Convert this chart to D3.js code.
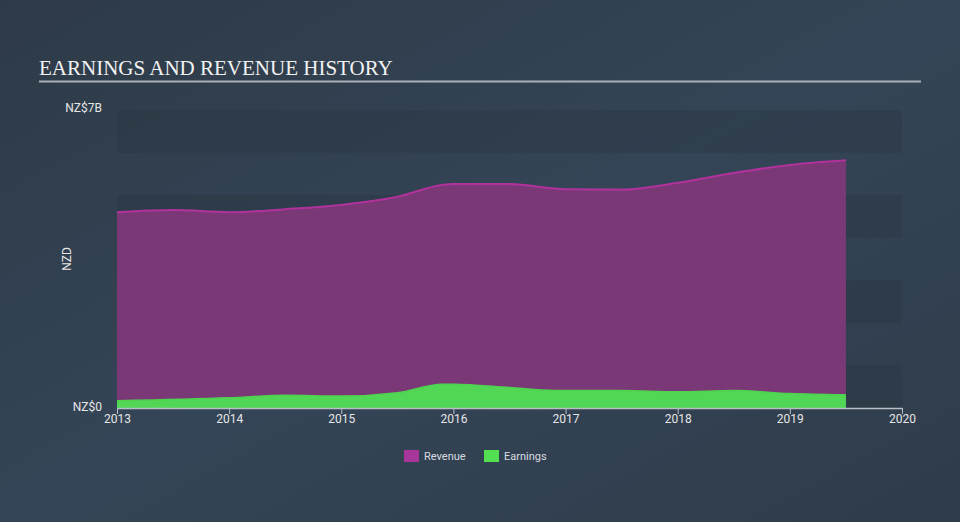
<!DOCTYPE html>
<html><head><meta charset="utf-8">
<script src="https://cdn.jsdelivr.net/npm/d3@7"></script>
<style>
html,body{margin:0;padding:0;}
body{width:960px;height:522px;overflow:hidden;background:#33414f;}
</style></head>
<body>
<svg id="c" width="960" height="522"></svg>
<script>
const revDates = [2013.0, 2013.5, 2014.0, 2014.5, 2015.0, 2015.5, 2015.9, 2016.0, 2016.5, 2017.0, 2017.5, 2018.0, 2018.5, 2019.0, 2019.5];
const revenue  = [4.60, 4.65, 4.60, 4.67, 4.77, 4.96, 5.24, 5.26, 5.26, 5.14, 5.13, 5.29, 5.52, 5.71, 5.82];
const earnDates = [2013.0, 2014.0, 2014.5, 2015.0, 2015.5, 2015.9, 2016.0, 2016.5, 2016.9, 2017.5, 2018.0, 2018.5, 2019.0, 2019.5];
const earnings  = [0.17, 0.24, 0.30, 0.28, 0.36, 0.56, 0.56, 0.48, 0.41, 0.41, 0.38, 0.41, 0.34, 0.31];
const xTicks = [2013, 2014, 2015, 2016, 2017, 2018, 2019, 2020];
const yTickLabels = ["NZ$0", "NZ$7B"];
const yTickValues = [0, 7];

const svg = d3.select("#c");
const defs = svg.append("defs");
const bg = defs.append("linearGradient").attr("id","bg").attr("x1","0").attr("y1","0").attr("x2","1").attr("y2","1");
bg.append("stop").attr("offset","0").attr("stop-color","#2e3a47");
bg.append("stop").attr("offset","0.5").attr("stop-color","#34455757".slice(0,7));
bg.append("stop").attr("offset","1").attr("stop-color","#2f3c4a");
svg.append("rect").attr("width",960).attr("height",522).attr("fill","url(#bg)");

const x = d3.scaleLinear().domain([2013, 2020]).range([117, 902]);
const y = d3.scaleLinear().domain([0, 7]).range([408, 110]);

// bands
const g = svg.append("g");
d3.range(0, 7).forEach(i => {
  if (i % 2 === 0) {
    g.append("rect").attr("x", x(2013)).attr("width", x(2020) - x(2013))
      .attr("y", y(i + 1)).attr("height", y(i) - y(i + 1))
      .attr("fill", "#27313d").attr("opacity", 0.3);
  }
});

// title
svg.append("text").attr("x", 39).attr("y", 75).text("EARNINGS AND REVENUE HISTORY")
  .attr("font-family", "Liberation Serif, DejaVu Serif, serif").attr("font-size", 21)
  .attr("fill", "#f2f2f2");
svg.append("line").attr("x1", 39).attr("x2", 921).attr("y1", 81.5).attr("y2", 81.5)
  .attr("stroke", "#aab0b8").attr("stroke-width", 2);

const curve = d3.curveMonotoneX;
const revData = revDates.map((d, i) => [d, revenue[i]]);
const earnData = earnDates.map((d, i) => [d, earnings[i]]);

const area = d3.area().x(d => x(d[0])).y0(y(0)).y1(d => y(d[1])).curve(curve);
const line = d3.line().x(d => x(d[0])).y(d => y(d[1])).curve(curve);

svg.append("path").datum(revData).attr("d", area).attr("fill", "#7a3876");
svg.append("path").datum(revData).attr("d", line).attr("fill", "none").attr("stroke", "#b1329c").attr("stroke-width", 2);
svg.append("path").datum(earnData).attr("d", area).attr("fill", "#51d655");
svg.append("path").datum(earnData).attr("d", line).attr("fill", "none").attr("stroke", "#4fd34f").attr("stroke-width", 1.5);

// x axis
const xAxis = d3.axisBottom(x).tickValues(xTicks).tickFormat(d3.format("d")).tickSize(6).tickSizeOuter(0);
const xg = svg.append("g").attr("transform", `translate(0,${y(0)})`).call(xAxis);
xg.select(".domain").attr("stroke", "#b8bec6").attr("stroke-width", 1.5);
xg.selectAll(".tick line").attr("stroke", "#b8bec6");
xg.selectAll(".tick text").attr("fill", "#e6e6e6").attr("font-size", 12)
  .attr("font-family", "Roboto, Open Sans, sans-serif").attr("dy", "0.5em");

// y labels
const yg = svg.append("g");
yTickValues.forEach((v, i) => {
  yg.append("text").attr("x", 102).attr("y", y(v) + (v === 0 ? 3 : 2)).attr("text-anchor", "end")
    .attr("font-family", "Roboto, Open Sans, sans-serif").attr("font-size", 12)
    .attr("fill", "#e6e6e6").text(yTickLabels[i]);
});
svg.append("text").attr("transform", "translate(71,259) rotate(-90)").attr("text-anchor", "middle")
  .attr("font-family", "Roboto, Open Sans, sans-serif").attr("font-size", 12).attr("fill", "#e6e6e6").text("NZD");

// legend
const legend = [{name: "Revenue", color: "#a8359a", x: 404}, {name: "Earnings", color: "#52e052", x: 484}];
legend.forEach(l => {
  svg.append("rect").attr("x", l.x).attr("y", 450).attr("width", 15).attr("height", 12).attr("fill", l.color);
  svg.append("text").attr("x", l.x + 20).attr("y", 460).text(l.name)
    .attr("font-family", "Roboto, Open Sans, sans-serif").attr("font-size", 11).attr("fill", "#d8dce0");
});
</script>
</body></html>
